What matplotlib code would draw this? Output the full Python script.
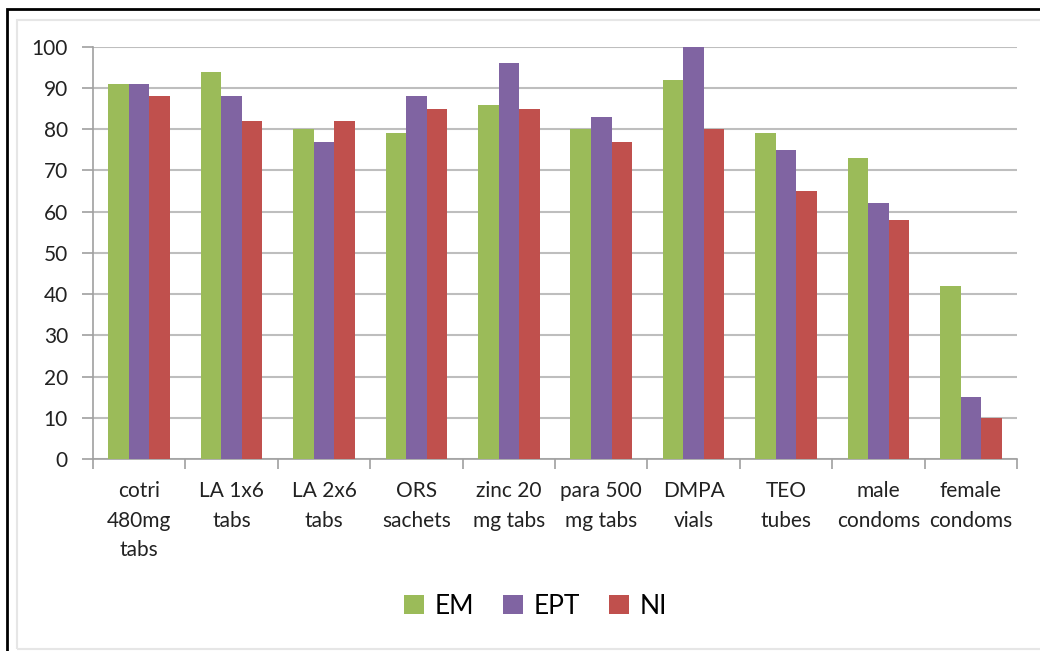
import numpy as np
import matplotlib.pyplot as plt
from matplotlib.patches import Rectangle

plt.rcParams['font.family'] = ['Lato', 'DejaVu Sans']

categories = ['cotri\n480mg\ntabs', 'LA 1x6\ntabs', 'LA 2x6\ntabs', 'ORS\nsachets',
              'zinc 20\nmg tabs', 'para 500\nmg tabs', 'DMPA\nvials', 'TEO\ntubes',
              'male\ncondoms', 'female\ncondoms']
em = [91, 94, 80, 79, 86, 80, 92, 79, 73, 42]
ept = [91, 88, 77, 88, 96, 83, 100, 75, 62, 15]
ni = [88, 82, 82, 85, 85, 77, 80, 65, 58, 10]

series = [('EM', em, '#9BBB59'), ('EPT', ept, '#8064A2'), ('NI', ni, '#C0504D')]

fig = plt.figure(figsize=(10.4, 6.51), dpi=100)
ax = fig.add_axes([0.0894, 0.295, 0.8886, 0.633])

x = np.arange(len(categories))
w = 0.222
for i, (name, vals, col) in enumerate(series):
    ax.bar(x + (i - 1) * w, vals, w, color=col, label=name, zorder=3)

ax.set_xlim(-0.5, len(categories) - 0.5)
ax.set_ylim(0, 100)
ax.set_yticks(range(0, 101, 10))
ax.yaxis.grid(True, color='#BEBEBE', linewidth=1.5, zorder=0)

ax.set_xticks(x)
ax.set_xticklabels(categories, fontsize=15, color='#222222', linespacing=1.6)
ax.set_xticks(np.arange(-0.5, len(categories)), minor=True)
ax.tick_params(axis='x', which='major', length=0, pad=16)
ax.tick_params(axis='x', which='minor', length=7, width=1.2, color='#A0A0A0')
ax.tick_params(axis='y', length=8, width=1.2, color='#A0A0A0', labelsize=15,
               labelcolor='#222222', pad=10)

for side in ['top', 'right']:
    ax.spines[side].set_visible(False)
for side in ['left', 'bottom']:
    ax.spines[side].set_color('#A0A0A0')
    ax.spines[side].set_linewidth(1.2)

fig.legend(loc='center', bbox_to_anchor=(0.515, 0.069), ncol=3, frameon=False,
           fontsize=19, handlelength=0.75, handleheight=0.75, handletextpad=0.4,
           columnspacing=1.1)

# outer frame
fig.patches.append(Rectangle((7 / 1040, -0.01), 1.05, 1 - 9 / 651 + 0.01,
                             transform=fig.transFigure, fill=False,
                             edgecolor='black', linewidth=2))
fig.patches.append(Rectangle((17 / 1040, 2 / 651), 1.05, 1 - 22 / 651,
                             transform=fig.transFigure, fill=False,
                             edgecolor='#E6E6E6', linewidth=1.5))

fig.savefig('out.png', dpi=100)
